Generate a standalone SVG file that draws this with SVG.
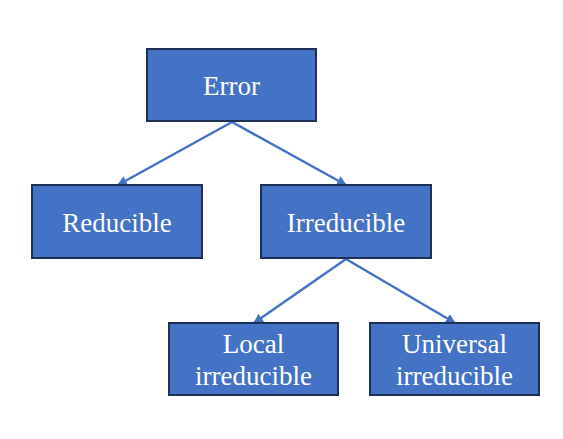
<svg xmlns="http://www.w3.org/2000/svg" width="563" height="439" viewBox="0 0 563 439">
<style>
.box{fill:#4472C4;stroke:#1F3056;stroke-width:2}
.lbl{font-family:"Liberation Serif","Times New Roman",serif;font-size:27px;fill:#fff;text-anchor:middle}
.edge{stroke:#4472C4;stroke-width:2.5;fill:none;marker-end:url(#ah)}
</style>
<defs>
<marker id="ah" viewBox="0 0 10 10" refX="9" refY="5" markerWidth="4" markerHeight="4" orient="auto" markerUnits="strokeWidth">
<path d="M0,0 L10,5 L0,10 z" fill="#4472C4"/>
</marker>
</defs>
<rect width="563" height="439" fill="#fff"/>
<g id="connectors">
<line class="edge" x1="232" y1="122" x2="118" y2="185"/>
<line class="edge" x1="232" y1="122" x2="346" y2="185"/>
<line class="edge" x1="346" y1="259" x2="254" y2="323"/>
<line class="edge" x1="346" y1="259" x2="455" y2="323"/>
</g>
<g id="error"><rect class="box" x="147" y="49" width="169" height="72"/><text class="lbl" x="231.5" y="95">Error</text></g>
<g id="reducible"><rect class="box" x="32" y="185" width="170" height="73"/><text class="lbl" x="117" y="232">Reducible</text></g>
<g id="irreducible"><rect class="box" x="261" y="185" width="170" height="73"/><text class="lbl" x="346" y="232">Irreducible</text></g>
<g id="local"><rect class="box" x="169" y="323" width="169" height="72"/><text class="lbl" x="253.5" y="353">Local</text><text class="lbl" x="253.5" y="385">irreducible</text></g>
<g id="universal"><rect class="box" x="370" y="323" width="169" height="72"/><text class="lbl" x="454.5" y="353">Universal</text><text class="lbl" x="454.5" y="385">irreducible</text></g>
</svg>
